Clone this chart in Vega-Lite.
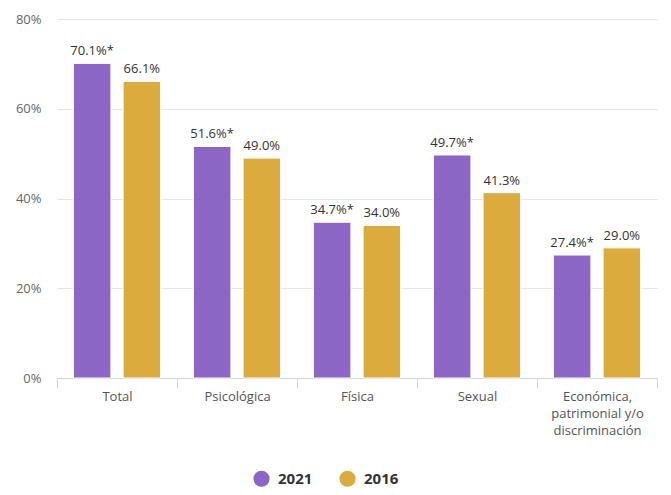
{
  "$schema": "https://vega.github.io/schema/vega-lite/v6.json",
  "width": 600,
  "height": 359,
  "autosize": {"type": "none"},
  "padding": {"left": 57, "top": 19, "right": 14, "bottom": 117},
  "background": "white",
  "data": {
    "values": [
      {"tipo": "Total", "anio": "2021", "valor": 70.1, "etiqueta": "70.1%*"},
      {"tipo": "Total", "anio": "2016", "valor": 66.1, "etiqueta": "66.1%"},
      {"tipo": "Psicológica", "anio": "2021", "valor": 51.6, "etiqueta": "51.6%*"},
      {"tipo": "Psicológica", "anio": "2016", "valor": 49.0, "etiqueta": "49.0%"},
      {"tipo": "Física", "anio": "2021", "valor": 34.7, "etiqueta": "34.7%*"},
      {"tipo": "Física", "anio": "2016", "valor": 34.0, "etiqueta": "34.0%"},
      {"tipo": "Sexual", "anio": "2021", "valor": 49.7, "etiqueta": "49.7%*"},
      {"tipo": "Sexual", "anio": "2016", "valor": 41.3, "etiqueta": "41.3%"},
      {"tipo": "Económica, patrimonial y/o discriminación", "anio": "2021", "valor": 27.4, "etiqueta": "27.4%*"},
      {"tipo": "Económica, patrimonial y/o discriminación", "anio": "2016", "valor": 29.0, "etiqueta": "29.0%"}
    ]
  },
  "config": {
    "view": {"stroke": null},
    "font": "Open Sans"
  },
  "encoding": {
    "x": {
      "field": "tipo",
      "type": "nominal",
      "sort": null,
      "scale": {"paddingInner": 0, "paddingOuter": 0},
      "axis": {
        "title": null,
        "labelAngle": 0,
        "labelFontSize": 13,
        "labelColor": "#555555",
        "labelPadding": 2,
        "labelLineHeight": 17,
        "labelBaseline": "top",
        "tickBand": "extent",
        "tickSize": 10,
        "tickColor": "#ccd6eb",
        "domainColor": "#ccd6eb",
        "labelExpr": "datum.value == 'Económica, patrimonial y/o discriminación' ? ['Económica,', 'patrimonial y/o', 'discriminación'] : datum.label"
      }
    },
    "xOffset": {
      "field": "anio",
      "type": "nominal",
      "sort": ["2021", "2016"],
      "scale": {"paddingInner": 0.245, "paddingOuter": 0.33}
    },
    "y": {
      "field": "valor",
      "type": "quantitative",
      "scale": {"domain": [0, 80]},
      "axis": {
        "title": null,
        "values": [0, 20, 40, 60, 80],
        "labelExpr": "datum.value + '%'",
        "labelFontSize": 13,
        "labelColor": "#666666",
        "labelPadding": 16,
        "domain": false,
        "ticks": false,
        "gridColor": "#e6e6e6"
      }
    }
  },
  "layer": [
    {
      "mark": {"type": "bar", "stroke": "white", "strokeWidth": 1},
      "encoding": {
        "color": {
          "field": "anio",
          "type": "nominal",
          "sort": ["2021", "2016"],
          "scale": {"domain": ["2021", "2016"], "range": ["#8c66c4", "#dcab3d"]},
          "legend": {
            "title": null,
            "orient": "none",
            "direction": "horizontal",
            "legendX": 196,
            "legendY": 451,
            "symbolType": "circle",
            "symbolSize": 260,
            "symbolStrokeWidth": 0,
            "labelFontSize": 15,
            "labelFontWeight": "bold",
            "labelColor": "#333333",
            "columnPadding": 26,
            "labelOffset": 8
          }
        }
      }
    },
    {
      "mark": {"type": "text", "baseline": "bottom", "dy": -5, "fontSize": 13, "color": "#333333"},
      "encoding": {
        "text": {"field": "etiqueta", "type": "nominal"}
      }
    }
  ]
}
